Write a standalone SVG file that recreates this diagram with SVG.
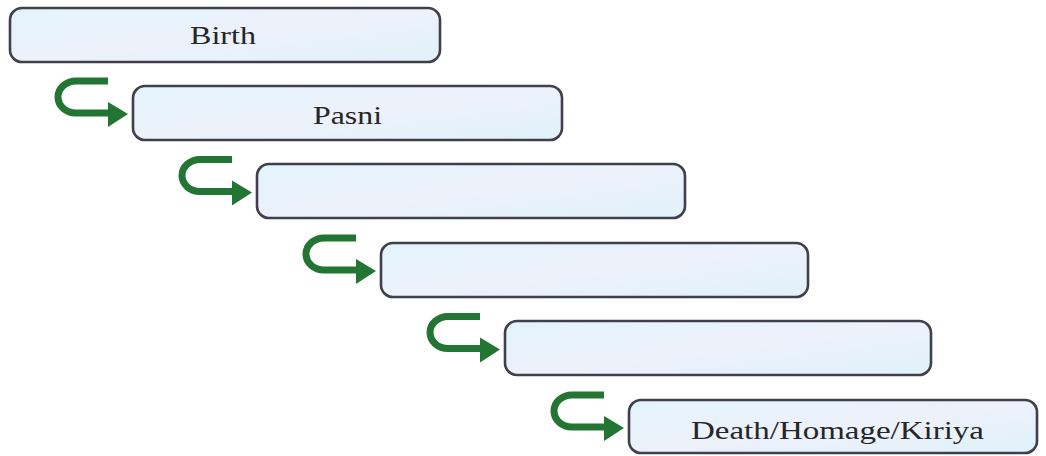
<svg xmlns="http://www.w3.org/2000/svg" width="1046" height="456" viewBox="0 0 1046 456">
<defs>
<linearGradient id="g" x1="0" y1="0" x2="1" y2="1">
<stop offset="0" stop-color="#e3f4fb"/>
<stop offset="0.5" stop-color="#edf1fa"/>
<stop offset="1" stop-color="#e0f2fa"/>
</linearGradient>
<g id="hook">
<path d="M108 81 H76 A18 16 0 0 0 76 113 H112" fill="none" stroke="#237533" stroke-width="7"/>
<polygon points="108,102 128,114 108,127" fill="#237533"/>
</g>
</defs>
<style>
.box{fill:url(#g);stroke:#40404c;stroke-width:2.6}
.t{font-family:"Liberation Serif",serif;font-size:25px;fill:#262626}
</style>
<rect width="1046" height="456" fill="#ffffff"/>
<g id="n1"><rect class="box" x="10" y="8" width="430" height="54" rx="12"/><text class="t" x="190" y="44" textLength="66" lengthAdjust="spacingAndGlyphs">Birth</text></g>
<g id="n2"><rect class="box" x="133" y="86" width="429" height="54" rx="12"/><text class="t" x="313" y="124" textLength="69" lengthAdjust="spacingAndGlyphs">Pasni</text></g>
<g id="n3"><rect class="box" x="257" y="164" width="428" height="54" rx="12"/></g>
<g id="n4"><rect class="box" x="381" y="243" width="427" height="54" rx="12"/></g>
<g id="n5"><rect class="box" x="505" y="321" width="426" height="54" rx="12"/></g>
<g id="n6"><rect class="box" x="629" y="400" width="408" height="53" rx="12"/><text class="t" x="691" y="439" textLength="293" lengthAdjust="spacingAndGlyphs">Death/Homage/Kiriya</text></g>
<g id="connectors">
<use href="#hook"/>
<use href="#hook" transform="translate(124,78.5)"/>
<use href="#hook" transform="translate(248,157)"/>
<use href="#hook" transform="translate(372,235.5)"/>
<use href="#hook" transform="translate(496,314)"/>
</g>
</svg>
